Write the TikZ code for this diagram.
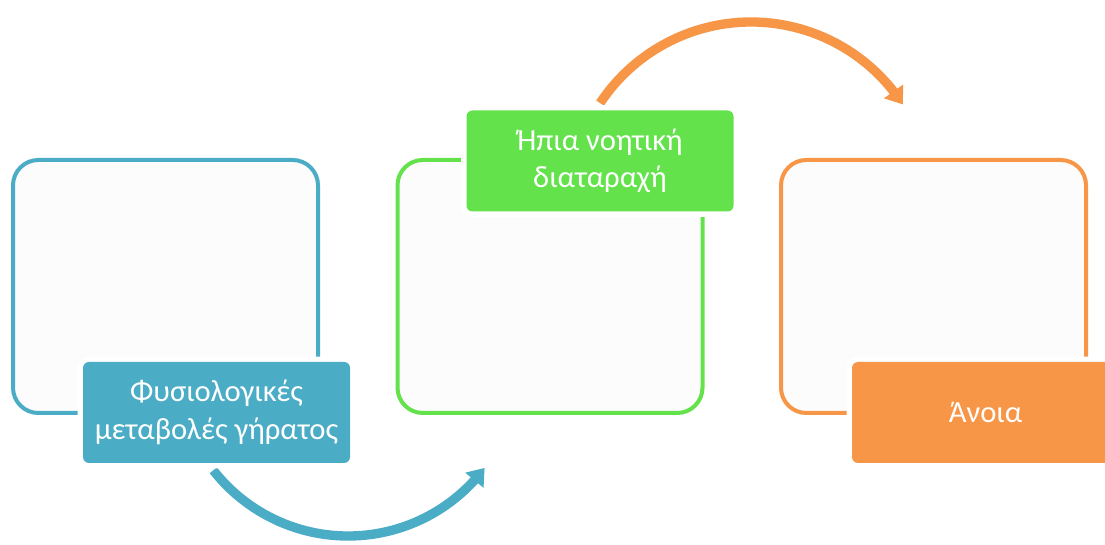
\documentclass[tikz,border=0pt]{standalone}
\usepackage{fontspec}
\setmainfont{Carlito}
\usetikzlibrary{arrows.meta,bending}
\definecolor{cblue}{RGB}{75,172,198}
\definecolor{cgreen}{RGB}{99,226,75}
\definecolor{corange}{RGB}{247,150,70}
\definecolor{cpaper}{RGB}{252,252,252}
\tikzset{
  outlinebox/.style={draw=#1, line width=3pt, fill=cpaper, rounded corners=19pt,
    minimum width=228.75pt, minimum height=189.75pt, inner sep=0pt},
  labelbox/.style={fill=#1, rounded corners=4.5pt, text=white, align=center,
    minimum width=200.25pt, minimum height=75.75pt, inner sep=2pt,
    font=\fontsize{23}{28}\selectfont,
    preaction={draw=white, line width=8pt, rounded corners=4.5pt}},
  flowarrow/.style={draw=#1, line width=7pt,
    -{Triangle[width=17pt,length=12pt,flex]}}
}
\begin{document}
\begin{tikzpicture}[x=0.75pt,y=0.75pt]
\useasboundingbox (0,0) rectangle (1105,545);
\clip (0,0) rectangle (1105,545);
\fill[white] (0,0) rectangle (1105,545);
% arrows
\coordinate (bs) at (213.3,74.7);
\coordinate (os) at (600.1,441.9);
\draw[flowarrow=cblue] (bs) arc[start angle=218, end angle=323, radius=128.25pt];
\draw[flowarrow=corange] (os) arc[start angle=146.5, end angle=33, radius=135.75pt];
% outline boxes
\node[outlinebox=cblue] (b1) at (165.5,258.5) {};
\node[outlinebox=cgreen] (b2) at (550,258.5) {};
\node[outlinebox=corange] (b3) at (933.5,258.5) {};
% labels
\node[labelbox=cblue] (l1) at (216.5,132.5) {Φυσιολογικές\\μεταβολές γήρατος};
\node[labelbox=cgreen] (l2) at (600,384) {Ήπια νοητική\\διαταραχή};
\node[labelbox=corange] (l3) at (985.5,132.5) {Άνοια};
\end{tikzpicture}
\end{document}
